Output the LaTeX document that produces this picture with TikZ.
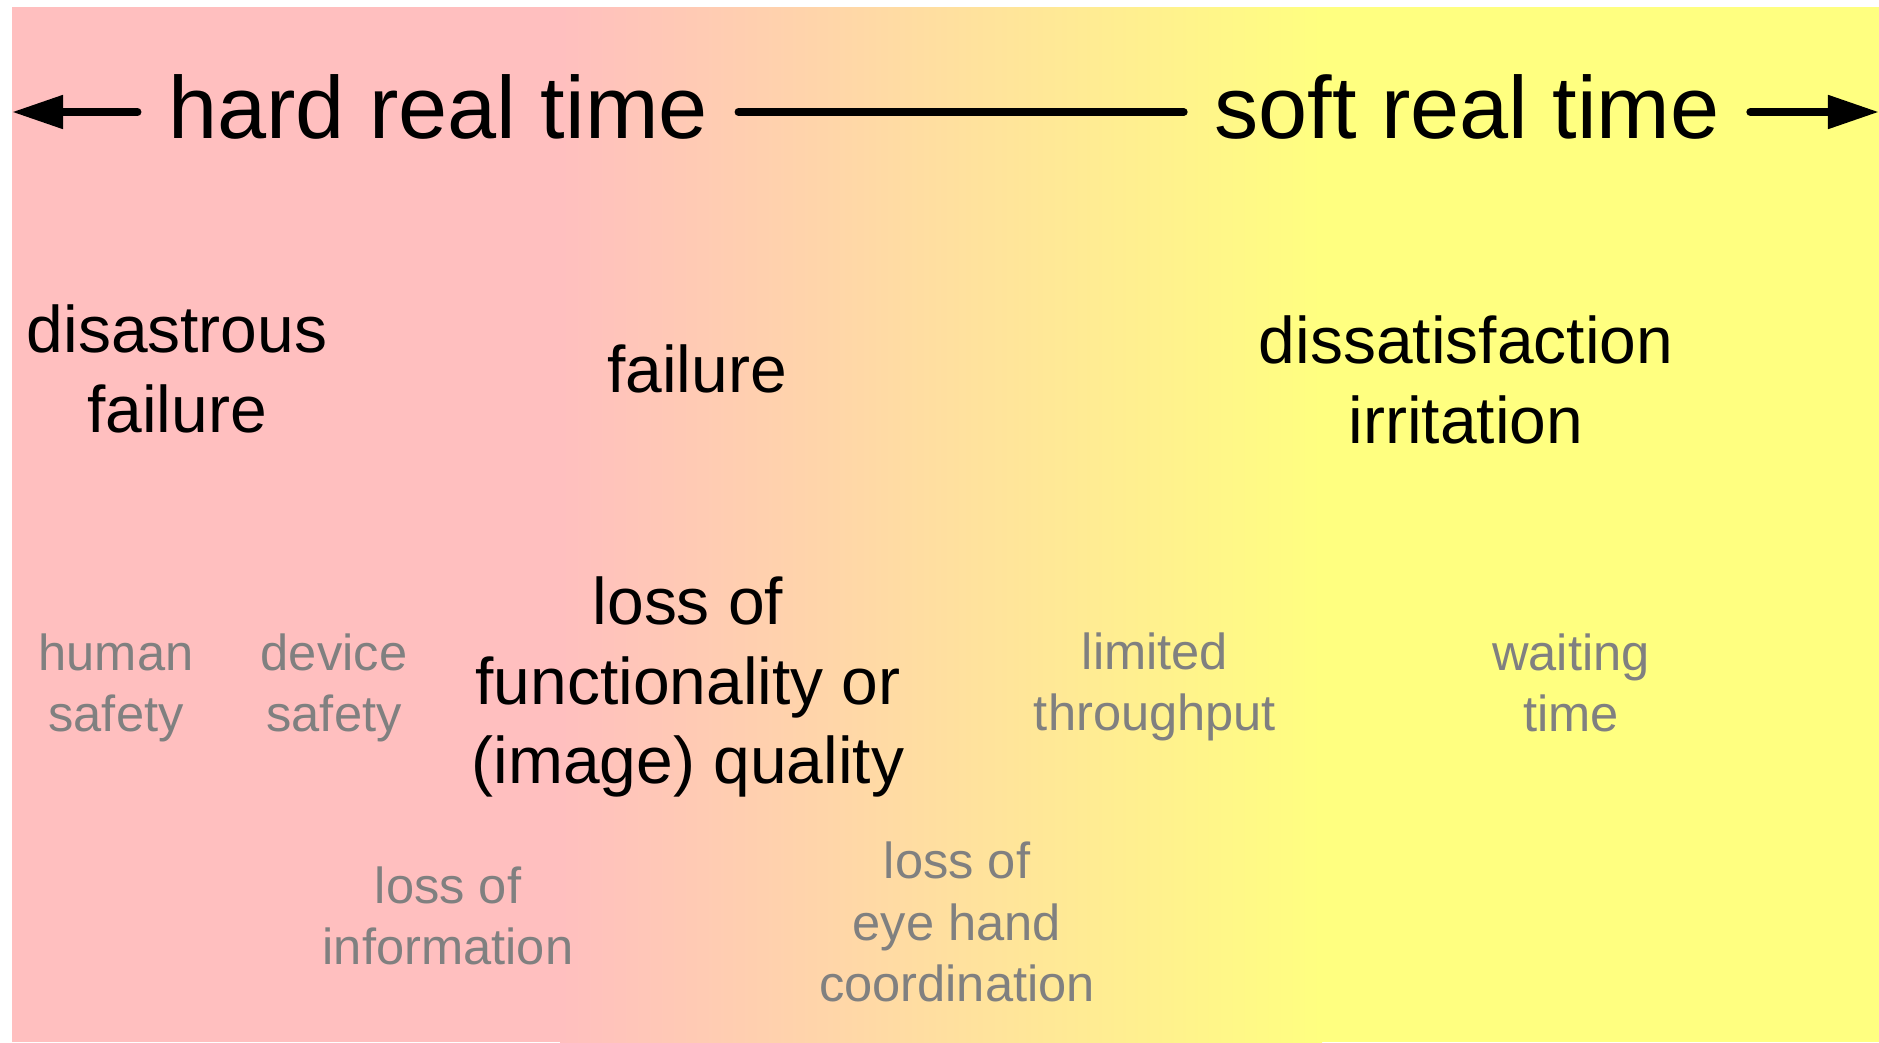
\documentclass[tikz,border=0pt]{standalone}
\usepackage{fontspec}
\setmainfont{Liberation Sans}
\usetikzlibrary{arrows.meta}

\definecolor{rosa}{HTML}{FFBFBF}
\definecolor{amarillo}{HTML}{FFFF80}
\definecolor{gris}{HTML}{808080}

\tikzset{
	titulo/.style={inner xsep=0.3cm, inner ysep=0pt, anchor=base, font=\fontsize{25.1pt}{29pt}\selectfont},
	efecto/.style={align=center, inner sep=0pt, font=\fontsize{18.75pt}{22.6pt}\selectfont},
	causa/.style={align=center, inner sep=0pt, text=gris, font=\fontsize{14.4pt}{17.4pt}\selectfont},
	eje/.style={line width=0.08cm, line cap=round},
	flecha/.style={eje, -{Triangle[length=0.51cm, width=0.32cm]}}
}

\begin{document}
\begin{tikzpicture}[x=0.01cm, y=-0.01cm]

\useasboundingbox (0,0) rectangle (1879,1042);

% Fondo
	\fill[rosa] (12,7) rectangle (562,1042);
	\shade[left color=rosa, right color=amarillo] (560,7) rectangle (1322,1042);
	\fill[amarillo] (1320,7) rectangle (1879,1042);

% Eje
	\node[titulo] (hard) at (438,138) {hard real time};
	\node[titulo] (soft) at (1467,138) {soft real time};

	\coordinate (izq) at (12,112);
	\coordinate (der) at (1879,112);

	\draw[flecha] (hard.west |- izq) -- (izq);
	\draw[eje] (hard.east |- izq) -- (soft.west |- izq);
	\draw[flecha] (soft.east |- der) -- (der);

% Consecuencias
	\node[efecto] (desastre) at (177,369) {disastrous\\failure};
	\node[efecto] (fallo) at (697,369) {failure};
	\node[efecto] (irritacion) at (1466,380) {dissatisfaction\\irritation};
	\node[efecto] (calidad) at (688,687) {loss of\\functionality or\\(image) quality};

% Causas
	\node[causa] (humano) at (116,688) {human\\safety};
	\node[causa] (equipo) at (334,688) {device\\safety};
	\node[causa] (info) at (448,916) {loss of\\information};
	\node[causa] (ojomano) at (957,922) {loss of\\eye hand\\coordination};
	\node[causa] (caudal) at (1155,687) {limited\\throughput};
	\node[causa] (espera) at (1571,683) {waiting\\time};

\end{tikzpicture}
\end{document}
